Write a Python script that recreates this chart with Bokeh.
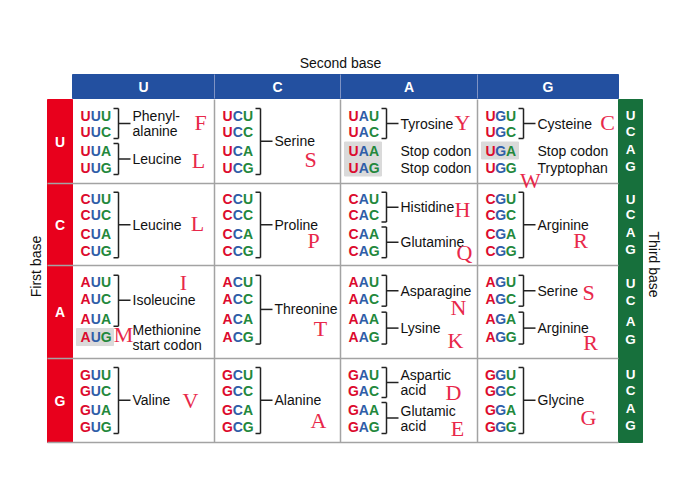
import numpy as np
from bokeh.plotting import figure
from bokeh.models import Range1d
from bokeh.core.properties import value
from bokeh.embed import file_html
from bokeh.resources import INLINE

# ---------------- data ----------------
bases = ["U", "C", "A", "G"]

# (first base, second base) -> list of (one-letter code, label lines, third-base indices)
groups = {
    ("U", "U"): [("F", ["Phenyl-", "alanine"], [0, 1]), ("L", ["Leucine"], [2, 3])],
    ("U", "C"): [("S", ["Serine"], [0, 1, 2, 3])],
    ("U", "A"): [("Y", ["Tyrosine"], [0, 1]), ("", ["Stop codon"], [2]), ("", ["Stop codon"], [3])],
    ("U", "G"): [("C", ["Cysteine"], [0, 1]), ("", ["Stop codon"], [2]), ("W", ["Tryptophan"], [3])],
    ("C", "U"): [("L", ["Leucine"], [0, 1, 2, 3])],
    ("C", "C"): [("P", ["Proline"], [0, 1, 2, 3])],
    ("C", "A"): [("H", ["Histidine"], [0, 1]), ("Q", ["Glutamine"], [2, 3])],
    ("C", "G"): [("R", ["Arginine"], [0, 1, 2, 3])],
    ("A", "U"): [("I", ["Isoleucine"], [0, 1, 2]), ("M", ["Methionine", "start codon"], [3])],
    ("A", "C"): [("T", ["Threonine"], [0, 1, 2, 3])],
    ("A", "A"): [("N", ["Asparagine"], [0, 1]), ("K", ["Lysine"], [2, 3])],
    ("A", "G"): [("S", ["Serine"], [0, 1]), ("R", ["Arginine"], [2, 3])],
    ("G", "U"): [("V", ["Valine"], [0, 1, 2, 3])],
    ("G", "C"): [("A", ["Alanine"], [0, 1, 2, 3])],
    ("G", "A"): [("D", ["Aspartic", "acid"], [0, 1]), ("E", ["Glutamic", "acid"], [2, 3])],
    ("G", "G"): [("G", ["Glycine"], [0, 1, 2, 3])],
}
highlighted = ["UAA", "UAG", "UGA", "AUG"]

# ---------------- layout ----------------
W, H = 673, 471
col_edges = [72, 214, 340, 477, 618]
row_edges = [99, 183, 265, 358, 442]
line_offsets = [16, 32, 51, 68]
green_frac = [0.19, 0.38, 0.6, 0.8]
# placement of the red one-letter codes inside each cell (dx from cell left, dy from row top)
letter_offsets = {
    ("U", "U"): [(128, 23), (126, 61)],
    ("U", "C"): [(96, 60)],
    ("U", "A"): [(122, 23), None, None],
    ("U", "G"): [(130, 23), None, (53, 81)],
    ("C", "U"): [(125, 40)],
    ("C", "C"): [(99, 57)],
    ("C", "A"): [(122, 26), (124, 69)],
    ("C", "G"): [(103, 57)],
    ("A", "U"): [(111, 17), (51, 69)],
    ("A", "C"): [(106, 63)],
    ("A", "A"): [(118, 42), (115, 75)],
    ("A", "G"): [(111, 27), (113, 77)],
    ("G", "U"): [(118, 42)],
    ("G", "C"): [(104, 62)],
    ("G", "A"): [(113, 34), (117, 70)],
    ("G", "G"): [(111, 59)],
}

RED, BLUE, GREEN = "#e8001c", "#2350a0", "#17703c"
POS_COL = ["#dc0a2d", "#2f5ea8", "#23883c"]
AA_RED = "#e8284a"
GRID = "#a3a3a3"
SANS = value("Liberation Sans")

p = figure(width=W, height=H, x_range=Range1d(0, W), y_range=Range1d(H, 0),
           output_backend="svg", toolbar_location=None, min_border=0,
           x_axis_location=None, y_axis_location=None)
p.grid.visible = False
p.outline_line_color = None
p.background_fill_color = "white"

# coloured bars
p.quad(left=[col_edges[0]], right=[col_edges[-1]], top=[74], bottom=[98], color=BLUE)
p.quad(left=[47], right=[col_edges[0]], top=[row_edges[0]], bottom=[row_edges[-1]], color=RED)
p.quad(left=[col_edges[-1]], right=[642], top=[row_edges[0]], bottom=[row_edges[-1]], color=GREEN)

# header dividers
p.segment(x0=col_edges[1:-1], x1=col_edges[1:-1], y0=[74] * 3, y1=[98] * 3,
          line_color="#7f93c4", line_width=1)

# grid lines
p.segment(x0=col_edges[1:-1], x1=col_edges[1:-1], y0=[row_edges[0]] * 3, y1=[row_edges[-1]] * 3,
          line_color=GRID, line_width=1.5)
p.segment(x0=[47] * 4, x1=[col_edges[-1]] * 4, y0=row_edges[1:], y1=row_edges[1:],
          line_color=GRID, line_width=1.5)

# header letters
cx = [(col_edges[i] + col_edges[i + 1]) / 2 for i in range(4)]
ry = [(row_edges[i] + row_edges[i + 1]) / 2 for i in range(4)]
p.text(x=cx, y=[86] * 4, text=bases, text_color="white", text_font=SANS,
       text_font_style="bold", text_font_size="14px", text_align="center", text_baseline="middle")
p.text(x=[59.5] * 4, y=ry, text=bases, text_color="white", text_font=SANS,
       text_font_style="bold", text_font_size="14px", text_align="center", text_baseline="middle")
gx, gy, gt = [], [], []
for r in range(4):
    h = row_edges[r + 1] - row_edges[r]
    for k, b in enumerate(bases):
        gx.append(630)
        gy.append(row_edges[r] + h * green_frac[k])
        gt.append(b)
p.text(x=gx, y=gy, text=gt, text_color="white", text_font=SANS, text_font_style="bold",
       text_font_size="13.5px", text_align="center", text_baseline="middle")

# axis titles
p.text(x=[340], y=[62], text=["Second base"], text_font=SANS, text_font_size="14px",
       text_align="center", text_baseline="middle", text_color="#111")
p.text(x=[35], y=[266], text=["First base"], angle=np.pi / 2, text_font=SANS,
       text_font_size="14px", text_align="center", text_baseline="middle", text_color="#111")
p.text(x=[653], y=[264], text=["Third base"], angle=-np.pi / 2, text_font=SANS,
       text_font_size="14px", text_align="center", text_baseline="middle", text_color="#111")

# cells
hl_l, hl_r, hl_t, hl_b = [], [], [], []
lx, ly, lt, lc = [], [], [], []
tx, ty, tt = [], [], []
ax_, ay_, at_ = [], [], []
bx0, by0, bx1, by1 = [], [], [], []
for r, b1 in enumerate(bases):
    top = row_edges[r]
    s = np.sqrt((row_edges[r + 1] - top) / 84.0)
    ys = [top + o * s for o in line_offsets]
    for c, b2 in enumerate(bases):
        left = col_edges[c]
        x0 = left + 8
        for k, b3 in enumerate(bases):
            codon = b1 + b2 + b3
            if codon in highlighted:
                hl_l.append(x0 - 4); hl_r.append(x0 + 33)
                hl_t.append(ys[k] - 8.5); hl_b.append(ys[k] + 8.5)
            for j, ch in enumerate(codon):
                lx.append(x0 + 5 + j * 10.3); ly.append(ys[k]); lt.append(ch); lc.append(POS_COL[j])
        label_x = x0 + 52
        vx = x0 + 38
        for g, (code, lines, idx) in enumerate(groups[(b1, b2)]):
            yc = np.mean([ys[i] for i in idx])
            n = len(lines)
            for j, t in enumerate(lines):
                tx.append(label_x); ty.append(yc + (j - (n - 1) / 2) * 15); tt.append(t)
            if len(idx) > 1:
                yt, yb = ys[idx[0]] - 7, ys[idx[-1]] + 7
                bx0 += [vx, x0 + 33, x0 + 33, vx]
                bx1 += [vx, vx, vx, label_x - 2]
                by0 += [yt, yt, yb, yc]
                by1 += [yb, yt, yb, yc]
            off = letter_offsets[(b1, b2)][g]
            if code and off is not None:
                ax_.append(left + off[0]); ay_.append(top + off[1]); at_.append(code)

p.quad(left=hl_l, right=hl_r, top=hl_t, bottom=hl_b, color="#dadada")
p.segment(x0=bx0, y0=by0, x1=bx1, y1=by1, line_color="#222", line_width=1.5)
p.text(x=lx, y=ly, text=lt, text_color=lc, text_font=SANS, text_font_style="bold",
       text_font_size="14px", text_align="center", text_baseline="middle")
p.text(x=tx, y=ty, text=tt, text_color="#111", text_font=SANS, text_font_size="14px",
       text_align="left", text_baseline="middle")
p.text(x=ax_, y=ay_, text=at_, text_color=AA_RED, text_font=value("Liberation Serif"),
       text_font_size="22px", text_align="center", text_baseline="middle")

open("out.html", "w").write(file_html(p, INLINE))
